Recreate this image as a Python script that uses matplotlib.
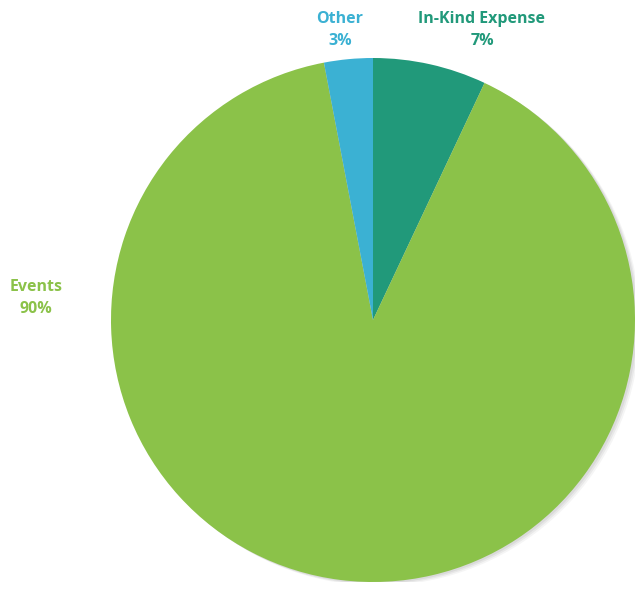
import matplotlib
matplotlib.use("Agg")
import matplotlib.pyplot as plt

categories = ["In-Kind Expense", "Events", "Other"]
shares = [7, 90, 3]
colors = ["#21997a", "#8bc249", "#3bb1d3"]

fig = plt.figure(figsize=(6.35, 5.89), dpi=100)
fig.patch.set_facecolor("white")

# pie box in pixels: centre (373, 320), radius 262
cx, cy, r = 373, 320, 262
W, H = 635, 589
ax = fig.add_axes([(cx - r) / W, (H - cy - r) / H, 2 * r / W, 2 * r / H])

# soft shadow to the right
for off, a in [(0.02, 0.04), (0.014, 0.05), (0.008, 0.06)]:
    ax.add_patch(plt.Circle((off, -off * 0.7), 1.0, color="#000000",
                            alpha=a, lw=0, zorder=0))

wedges, _ = ax.pie(shares, colors=colors, startangle=90, counterclock=False,
                   radius=1.0, wedgeprops=dict(linewidth=0))
for w in wedges:
    w.set_zorder(2)

ax.set_xlim(-1, 1)
ax.set_ylim(-1, 1)
ax.axis("off")

# label positions (in pie radius units)
label_pos = {
    "In-Kind Expense": (0.416, 1.105),
    "Events": (-1.285, 0.085),
    "Other": (-0.126, 1.105),
}
for name, val, col in zip(categories, shares, colors):
    x, y = label_pos[name]
    ax.text(x, y, f"{name}\n{val}%", ha="center", va="center", color=col,
            fontsize=11.5, fontweight="bold", family=["Open Sans", "DejaVu Sans"],
            linespacing=1.5, clip_on=False)

fig.savefig("out.png", dpi=100)
